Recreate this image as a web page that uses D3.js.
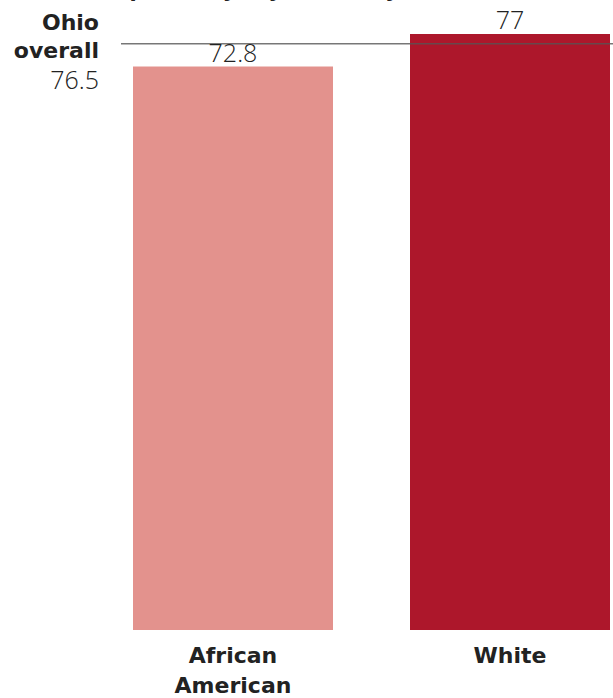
<!DOCTYPE html>
<html>
<head>
<meta charset="utf-8">
<script src="https://cdn.jsdelivr.net/npm/d3@7"></script>
<style>
  html, body { margin: 0; padding: 0; background: #fff; }
  svg { display: block; }
</style>
</head>
<body>
<svg id="chart" width="613" height="698"></svg>
<script>
const title = "Life expectancy (by race, in years, 2015)";
const categories = ["African American", "White"];
const categoryLines = [["African", "American"], ["White"]];
const values = [72.8, 77];
const colors = ["#E3928D", "#AD172B"];
const overallLabel = ["Ohio", "overall"];
const overallValue = 76.5;

const svg = d3.select("#chart");
const W = 613, H = 698;
const margin = { left: 133, right: 3, top: 34, bottom: 68 };

const x = d3.scaleBand()
  .domain(categories)
  .range([margin.left, W - margin.right])
  .paddingInner(0.278)
  .paddingOuter(0);

const y = d3.scaleLinear()
  .domain([0, d3.max(values)])
  .range([H - margin.bottom, margin.top]);

const numFont = "'Open Sans', 'DejaVu Sans', sans-serif";
const boldFont = "'DejaVu Sans', sans-serif";

// cut-off title (only the descenders peek into view)
svg.append("text")
  .attr("x", 292)
  .attr("y", -3)
  .attr("text-anchor", "middle")
  .attr("font-family", boldFont)
  .attr("font-weight", "bold")
  .attr("font-size", 21)
  .attr("fill", "#222")
  .text(title);

const data = categories.map((c, i) => ({ c, v: values[i], color: colors[i], lines: categoryLines[i] }));

svg.selectAll("rect.bar")
  .data(data)
  .join("rect")
  .attr("class", "bar")
  .attr("x", d => x(d.c))
  .attr("width", x.bandwidth())
  .attr("y", d => y(d.v))
  .attr("height", d => y(0) - y(d.v))
  .attr("fill", d => d.color);

// overall reference line
svg.append("line")
  .attr("x1", 121)
  .attr("x2", W)
  .attr("y1", y(overallValue) + 6)
  .attr("y2", y(overallValue) + 6)
  .attr("stroke", "#555")
  .attr("stroke-opacity", 0.8)
  .attr("stroke-width", 1.5);

// value labels
svg.selectAll("text.val")
  .data(data)
  .join("text")
  .attr("class", "val")
  .attr("x", d => x(d.c) + x.bandwidth() / 2)
  .attr("y", d => y(d.v) - 5)
  .attr("text-anchor", "middle")
  .attr("font-family", numFont)
  .attr("font-weight", 300)
  .attr("font-size", 25)
  .attr("fill", "#222")
  .text(d => d.v);

// category labels
const cat = svg.selectAll("text.cat")
  .data(data)
  .join("text")
  .attr("class", "cat")
  .attr("text-anchor", "middle")
  .attr("font-family", boldFont)
  .attr("font-weight", "bold")
  .attr("font-size", 22)
  .attr("fill", "#222");
cat.selectAll("tspan")
  .data(d => d.lines.map(l => ({ l, cx: x(d.c) + x.bandwidth() / 2 })))
  .join("tspan")
  .attr("x", d => d.cx)
  .attr("y", (d, i) => y(0) + 33 + i * 30)
  .text(d => d.l);

// Ohio overall label
const ov = svg.append("text")
  .attr("text-anchor", "end")
  .attr("font-family", boldFont)
  .attr("font-weight", "bold")
  .attr("font-size", 22)
  .attr("fill", "#222");
ov.selectAll("tspan")
  .data(overallLabel)
  .join("tspan")
  .attr("x", 99)
  .attr("y", (d, i) => 30 + i * 28)
  .text(d => d);

svg.append("text")
  .attr("x", 99)
  .attr("y", 89)
  .attr("text-anchor", "end")
  .attr("font-family", numFont)
  .attr("font-weight", 300)
  .attr("font-size", 25)
  .attr("fill", "#222")
  .text(overallValue);
</script>
</body>
</html>
